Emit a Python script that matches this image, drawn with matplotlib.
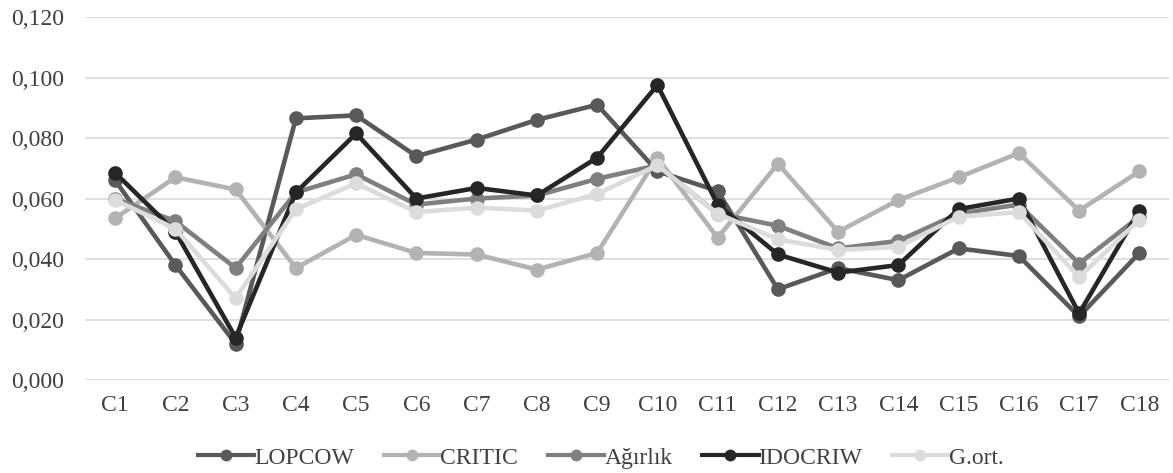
import matplotlib.pyplot as plt
import numpy as np

plt.rcParams['font.family'] = ['Liberation Serif', 'DejaVu Serif']

# Criteria and weights per method
criteria = ['C1', 'C2', 'C3', 'C4', 'C5', 'C6', 'C7', 'C8', 'C9', 'C10',
            'C11', 'C12', 'C13', 'C14', 'C15', 'C16', 'C17', 'C18']
lopcow = [0.066, 0.038, 0.012, 0.0865, 0.0875, 0.074, 0.0795, 0.086, 0.091,
          0.069, 0.0625, 0.030, 0.037, 0.033, 0.0435, 0.041, 0.021, 0.042]
critic = [0.0535, 0.067, 0.063, 0.037, 0.048, 0.042, 0.0415, 0.0365, 0.042,
          0.0735, 0.047, 0.0715, 0.049, 0.0595, 0.067, 0.075, 0.056, 0.069]
agirlik = [0.060, 0.0525, 0.037, 0.062, 0.068, 0.058, 0.060, 0.061, 0.0665,
           0.071, 0.055, 0.051, 0.0435, 0.046, 0.055, 0.058, 0.0385, 0.054]
idocriw = [0.0685, 0.049, 0.014, 0.062, 0.0815, 0.060, 0.0635, 0.061, 0.0735,
           0.0975, 0.058, 0.0415, 0.0355, 0.038, 0.0565, 0.060, 0.022, 0.056]
gort = [0.0595, 0.050, 0.027, 0.0565, 0.065, 0.0555, 0.057, 0.056, 0.0615,
        0.071, 0.055, 0.0465, 0.043, 0.044, 0.054, 0.0555, 0.034, 0.053]

series = [('LOPCOW', lopcow, '#595959'),
          ('CRITIC', critic, '#b3b3b3'),
          ('Ağırlık', agirlik, '#7f7f7f'),
          ('IDOCRIW', idocriw, '#262626'),
          ('G.ort.', gort, '#dcdcdc')]

fig, ax = plt.subplots(figsize=(11.73, 4.73), dpi=100)
fig.subplots_adjust(left=0.0725, right=0.997, top=0.964, bottom=0.1966)

x = np.arange(len(criteria))
for name, vals, col in series:
    ax.plot(x, vals, color=col, lw=3.3, marker='o', ms=9.5, label=name)

yt = np.arange(0, 0.121, 0.02)
ax.set_ylim(0, 0.12)
ax.set_yticks(yt)
ax.set_yticklabels([f'{v:.3f}'.replace('.', ',') for v in yt])
ax.set_xlim(-0.5, len(criteria) - 0.5)
ax.set_xticks(x)
ax.set_xticklabels(criteria)
ax.tick_params(axis='both', length=0, labelsize=17, colors='#404040')
ax.tick_params(axis='y', pad=15)
ax.tick_params(axis='x', pad=11)
ax.grid(axis='y', color='#d9d9d9', lw=1.2)
ax.set_axisbelow(True)
for s in ax.spines.values():
    s.set_visible(False)

leg = fig.legend(loc='center', bbox_to_anchor=(0.512, 0.032), ncol=5, frameon=False,
                 fontsize=17, handlelength=2.4, columnspacing=1.25, handletextpad=0.0,
                 labelcolor='#404040', borderaxespad=0)
for h in leg.legend_handles:
    h.set_markersize(7.5)
    h.set_linewidth(3)

plt.savefig('out.png')
